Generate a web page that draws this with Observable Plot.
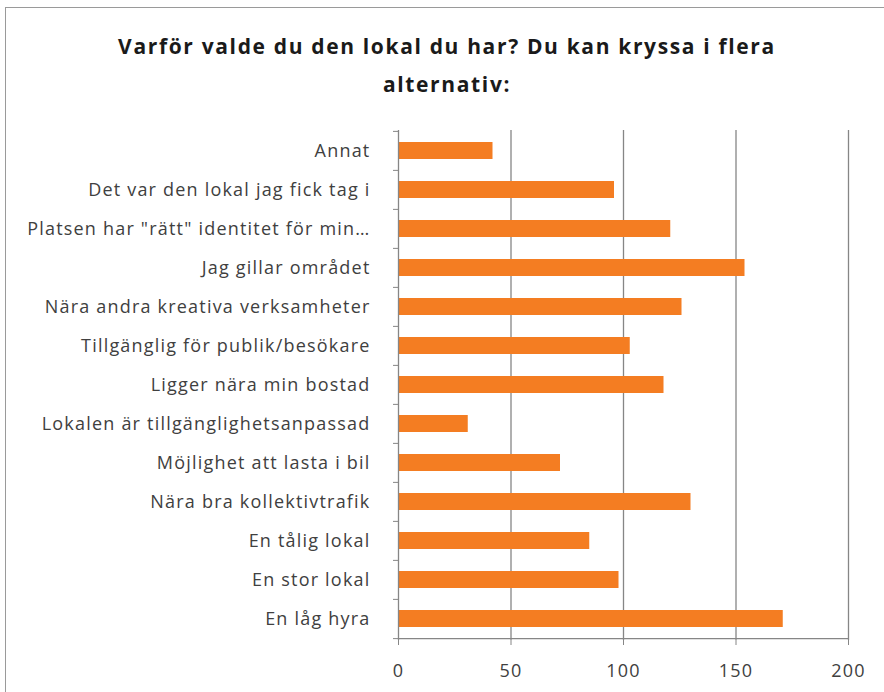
<!DOCTYPE html>
<html>
<head>
<meta charset="utf-8">
<script src="https://cdn.jsdelivr.net/npm/d3@7"></script>
<script src="https://cdn.jsdelivr.net/npm/@observablehq/plot@0.6"></script>
<style>
  html, body { margin: 0; padding: 0; background: #fff; }
  body { width: 884px; height: 692px; position: relative; overflow: hidden; font-family: "Open Sans", Lato, sans-serif; }
  #frame { position: absolute; left: 5px; top: 7px; width: 900px; height: 700px; border-left: 1px solid #9a9a9a; border-top: 1px solid #9a9a9a; }
  #title { position: absolute; left: 0; top: 27px; width: 894px; text-align: center; font-weight: bold; font-size: 21px; letter-spacing: 1.65px; line-height: 38px; color: #1a1a1a; }
  #chart { position: absolute; left: 0; top: 110px; }
  #chart svg text { letter-spacing: 1.2px; }
</style>
</head>
<body>
<div id="frame"></div>
<div id="title">Varför valde du den lokal du har? Du kan kryssa i flera<br>alternativ:</div>
<div id="chart"></div>
<script>
const categories = [
  "Annat",
  "Det var den lokal jag fick tag i",
  "Platsen har \"rätt\" identitet för min…",
  "Jag gillar området",
  "Nära andra kreativa verksamheter",
  "Tillgänglig för publik/besökare",
  "Ligger nära min bostad",
  "Lokalen är tillgänglighetsanpassad",
  "Möjlighet att lasta i bil",
  "Nära bra kollektivtrafik",
  "En tålig lokal",
  "En stor lokal",
  "En låg hyra"
];
const values = [42, 96, 121, 154, 126, 103, 118, 31, 72, 130, 85, 98, 171];
const xTicks = [0, 50, 100, 150, 200];

const data = categories.map((c, i) => ({category: c, value: values[i]}));

const W = 884, H = 582;
const mTop = 20, mBottom = 52, mLeft = 398, mRight = 36;
const step = (H - mTop - mBottom) / categories.length;
const axisColor = "#868686";
const lastCat = categories[categories.length - 1];

const chart = Plot.plot({
  width: W,
  height: H,
  marginTop: mTop,
  marginBottom: mBottom,
  marginLeft: mLeft,
  marginRight: mRight,
  style: {fontFamily: "'Open Sans', Lato, sans-serif", fontSize: "18px", color: "#404040", background: "transparent"},
  x: {domain: [0, 200], ticks: xTicks},
  y: {domain: categories, paddingInner: 0.56, paddingOuter: 0.28},
  marks: [
    Plot.gridX(xTicks.filter(d => d > 0), {stroke: axisColor, strokeOpacity: 1, strokeWidth: 1.3}),
    Plot.barX(data, {y: "category", x: "value", fill: "#f47d22"}),
    Plot.ruleX([0], {stroke: axisColor, strokeWidth: 1.3}),
    Plot.ruleY([lastCat], {y: d => d, dy: step / 2, stroke: axisColor, strokeWidth: 1.3}),
    Plot.axisX({ticks: xTicks, tickSize: 5, tickPadding: 19, stroke: axisColor, strokeOpacity: 1, fill: "#404040", label: null, fontSize: 18}),
    Plot.axisY({tickSize: 0, tickPadding: 28, label: null, fill: "#404040", fontSize: 18}),
    Plot.axisY({tickSize: 5, tickFormat: () => "", label: null, dy: -step / 2, stroke: axisColor, strokeOpacity: 1}),
    Plot.axisY([lastCat], {tickSize: 5, tickFormat: () => "", label: null, dy: step / 2, stroke: axisColor, strokeOpacity: 1})
  ]
});
document.getElementById("chart").appendChild(chart);
</script>
</body>
</html>
